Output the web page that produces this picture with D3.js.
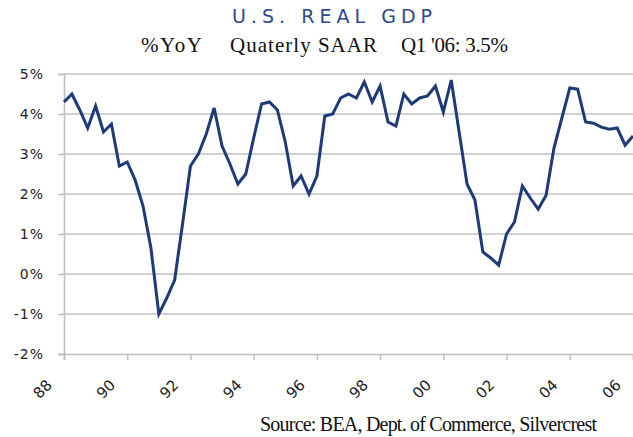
<!DOCTYPE html>
<html>
<head>
<meta charset="utf-8">
<script src="https://cdn.jsdelivr.net/npm/d3@7"></script>
<style>
  body { margin: 0; background: #fff; }
  svg { display: block; }
</style>
</head>
<body>
<div id="chart-area"></div>
<script>
// Real GDP, % year over year, quarterly from 1988 Q1 to 2006 Q1
let gdpYoY = [
    4.3, 4.5, 4.1, 3.65,   // 88
    4.2, 3.55, 3.75, 2.7,  // 89
    2.8, 2.35, 1.7, 0.65,  // 90
    -1.0, -0.6, -0.15, 1.25, // 91
    2.7, 3.0, 3.5, 4.15,   // 92
    3.2, 2.75, 2.25, 2.5,  // 93
    3.4, 4.25, 4.3, 4.1,   // 94
    3.3, 2.2, 2.45, 2.0,   // 95
    2.45, 3.95, 4.0, 4.4,  // 96
    4.5, 4.4, 4.8, 4.3,    // 97
    4.7, 3.8, 3.7, 4.5,    // 98
    4.25, 4.4, 4.45, 4.7,  // 99
    4.05, 4.85, 3.55, 2.25, // 00
    1.85, 0.55, 0.4, 0.22, // 01
    1.0, 1.3, 2.2, 1.9,    // 02
    1.62, 1.97, 3.15, 3.9, // 03
    4.65, 4.62, 3.8, 3.77, // 04
    3.67, 3.62, 3.65, 3.22, // 05
    3.45                   // 06 Q1
];
let yearLabels = ["88", "90", "92", "94", "96", "98", "00", "02", "04", "06"];
let yTicks = [-2, -1, 0, 1, 2, 3, 4, 5];

let width = 633, height = 437;
let margin = {left: 64, right: 0, top: 74, bottom: 83};

let svg = d3.select("#chart-area")
    .append("svg")
    .attr("width", width)
    .attr("height", height);

// Scales
let x = d3.scaleLinear()
    .domain([0, gdpYoY.length - 1])
    .range([margin.left, width - margin.right]);
let y = d3.scaleLinear()
    .domain([-2, 5])
    .range([height - margin.bottom, margin.top]);

// Titles
svg.append("text")
    .attr("x", 232)
    .attr("y", 23)
    .attr("textLength", 200)
    .attr("lengthAdjust", "spacing")
    .attr("font-family", "DejaVu Sans")
    .attr("font-size", "19px")
    .attr("fill", "#2c4a8c")
    .text("U.S. REAL GDP");

let subtitle = [
    {x: 141, len: 61, txt: "%YoY"},
    {x: 230, len: 147, txt: "Quaterly SAAR"},
    {x: 401, len: 107, txt: "Q1 '06: 3.5%"}
];
subtitle.forEach(s => {
    svg.append("text")
        .attr("x", s.x)
        .attr("y", 52)
        .attr("textLength", s.len)
        .attr("lengthAdjust", "spacing")
        .attr("font-family", "Liberation Serif")
        .attr("font-size", "21px")
        .attr("fill", "#111")
        .text(s.txt);
});

svg.append("text")
    .attr("x", 260)
    .attr("y", 431)
    .attr("textLength", 337)
    .attr("lengthAdjust", "spacing")
    .attr("font-family", "Liberation Serif")
    .attr("font-size", "20px")
    .attr("fill", "#111")
    .text("Source: BEA, Dept. of Commerce, Silvercrest");

// Y axis + gridlines
let yAxisCall = d3.axisLeft(y)
    .tickValues(yTicks)
    .tickSize(6)
    .tickPadding(14)
    .tickFormat(d => d + "%");
let yAxis = svg.append("g")
    .attr("class", "y axis")
    .attr("transform", "translate(" + margin.left + ",0)")
    .call(yAxisCall);
yAxis.select(".domain").attr("stroke", "#bdbdbd").attr("stroke-width", 1.5);
yAxis.selectAll(".tick line").attr("stroke", "#bdbdbd").attr("stroke-width", 1.5);
yAxis.selectAll(".tick text")
    .attr("font-family", "DejaVu Sans")
    .attr("font-size", "14px")
    .attr("letter-spacing", "1px")
    .attr("fill", "#222");

svg.append("g")
    .attr("class", "grid")
    .selectAll("line")
    .data(yTicks.filter(d => d > -2))
    .enter()
    .append("line")
    .attr("x1", margin.left)
    .attr("x2", width)
    .attr("y1", d => y(d))
    .attr("y2", d => y(d))
    .attr("stroke", "#c0c0c0")
    .attr("stroke-width", 1.5);

// X axis
let xAxisCall = d3.axisBottom(x)
    .tickValues(yearLabels.map((d, i) => i * 8))
    .tickSize(6)
    .tickFormat("");
let xAxis = svg.append("g")
    .attr("class", "x axis")
    .attr("transform", "translate(0," + y(-2) + ")")
    .call(xAxisCall);
xAxis.select(".domain").attr("stroke", "#bdbdbd").attr("stroke-width", 1.5);
xAxis.selectAll(".tick line").attr("stroke", "#bdbdbd").attr("stroke-width", 1.5);

svg.append("g")
    .selectAll("text")
    .data(yearLabels)
    .enter()
    .append("text")
    .attr("transform", (d, i) =>
        "translate(" + (x(i * 8) - 11) + "," + (y(-2) + 32) + ") rotate(-45)")
    .attr("text-anchor", "end")
    .attr("font-family", "DejaVu Sans")
    .attr("font-size", "15px")
    .attr("fill", "#222")
    .text(d => d);

// Line
let line = d3.line()
    .x((d, i) => x(i))
    .y(d => y(d));
svg.append("path")
    .datum(gdpYoY)
    .attr("d", line)
    .attr("fill", "none")
    .attr("stroke", "#1e3a78")
    .attr("stroke-width", 3)
    .attr("stroke-linejoin", "miter");
</script>
</body>
</html>
